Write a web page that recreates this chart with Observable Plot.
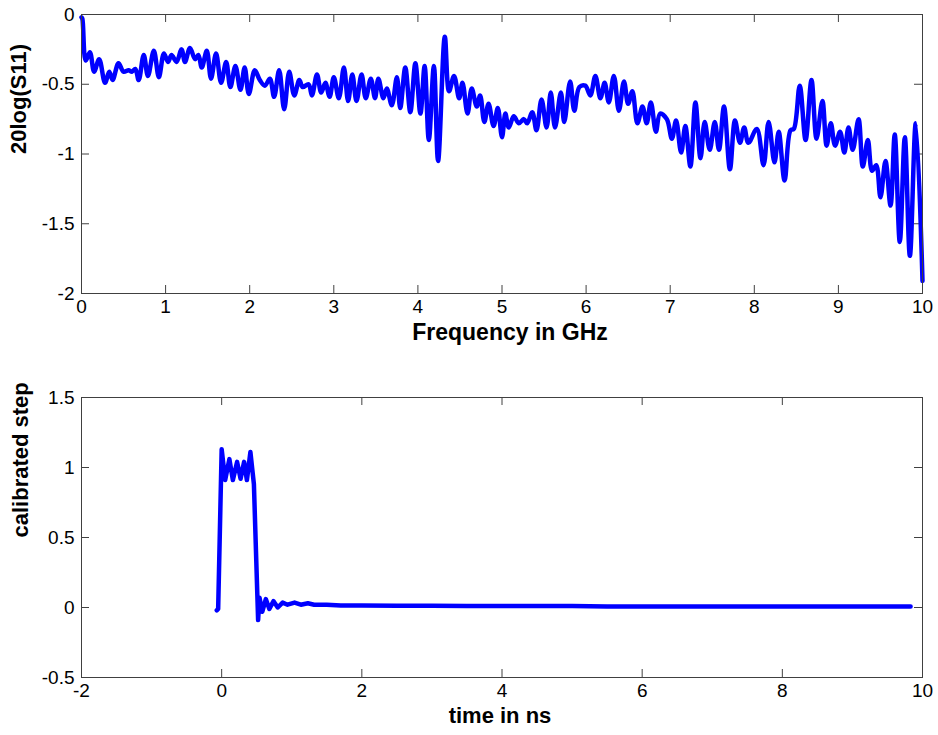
<!DOCTYPE html>
<html><head><meta charset="utf-8">
<script src="https://cdn.jsdelivr.net/npm/d3@7"></script>
<script src="https://cdn.jsdelivr.net/npm/@observablehq/plot@0.6"></script>
<style>
body{margin:0;background:#fff;}
#chart svg{display:block;}
</style></head><body><div id="chart"></div>
<script>
// Top panel: reflection in dB vs frequency
const freqGHz = [0.00,0.01,0.05,0.10,0.15,0.21,0.28,0.33,0.37,0.44,0.50,0.56,0.60,0.64,0.68,0.74,0.79,0.86,0.92,0.98,
  1.03,1.07,1.13,1.19,1.23,1.29,1.35,1.39,1.43,1.49,1.54,1.60,1.66,1.72,1.77,1.83,1.89,1.94,1.99,
  2.06,2.12,2.18,2.24,2.29,2.35,2.41,2.47,2.53,2.59,2.63,2.70,2.74,2.80,2.85,2.90,2.95,
  3.00,3.06,3.12,3.17,3.22,3.27,3.33,3.38,3.44,3.49,3.53,3.59,3.63,3.69,3.75,3.79,3.85,3.91,3.97,
  4.03,4.08,4.13,4.19,4.24,4.32,4.37,4.43,4.49,4.53,4.59,4.64,4.70,4.74,4.79,4.84,4.90,4.95,
  5.00,5.04,5.08,5.14,5.20,5.26,5.30,5.36,5.41,5.47,5.53,5.58,5.63,5.70,5.74,5.81,5.86,5.92,5.99,
  6.05,6.11,6.17,6.22,6.27,6.33,6.39,6.45,6.50,6.55,6.61,6.67,6.72,6.77,6.83,6.88,6.96,
  7.02,7.07,7.13,7.18,7.24,7.30,7.36,7.41,7.47,7.53,7.58,7.64,7.71,7.77,7.83,7.88,7.93,
  8.03,8.11,8.17,8.24,8.29,8.36,8.43,8.47,8.54,8.61,8.68,8.74,8.81,8.86,8.91,8.96,
  9.02,9.07,9.12,9.17,9.24,9.29,9.35,9.40,9.45,9.50,9.56,9.62,9.67,9.73,9.79,9.85,9.92,10.00];
const s11dB = [-0.02,-0.03,-0.33,-0.27,-0.41,-0.32,-0.49,-0.41,-0.47,-0.35,-0.41,-0.40,-0.41,-0.39,-0.47,-0.29,-0.44,-0.26,-0.45,-0.28,
  -0.34,-0.29,-0.34,-0.25,-0.34,-0.24,-0.32,-0.29,-0.38,-0.26,-0.46,-0.28,-0.49,-0.34,-0.52,-0.37,-0.54,-0.38,-0.57,
  -0.40,-0.47,-0.51,-0.46,-0.59,-0.40,-0.68,-0.41,-0.58,-0.47,-0.52,-0.50,-0.58,-0.43,-0.56,-0.49,-0.59,
  -0.45,-0.60,-0.38,-0.62,-0.43,-0.62,-0.43,-0.60,-0.46,-0.60,-0.46,-0.60,-0.53,-0.65,-0.45,-0.67,-0.38,-0.70,-0.35,
  -0.71,-0.37,-0.90,-0.37,-1.05,-0.16,-0.55,-0.44,-0.60,-0.49,-0.71,-0.53,-0.66,-0.58,-0.77,-0.64,-0.80,-0.67,
  -0.88,-0.71,-0.81,-0.73,-0.78,-0.75,-0.78,-0.70,-0.83,-0.61,-0.81,-0.56,-0.81,-0.56,-0.77,-0.48,-0.69,-0.52,-0.51,
  -0.58,-0.44,-0.60,-0.49,-0.63,-0.44,-0.69,-0.48,-0.64,-0.55,-0.78,-0.66,-0.78,-0.63,-0.84,-0.71,-0.75,
  -0.89,-0.76,-0.99,-0.80,-1.09,-0.63,-1.03,-0.77,-0.97,-0.77,-0.97,-0.66,-1.11,-0.76,-0.92,-0.81,-0.92,
  -0.82,-1.08,-0.77,-1.06,-0.84,-1.19,-0.83,-0.82,-0.51,-0.90,-0.47,-0.89,-0.62,-0.94,-0.78,-0.94,
  -0.84,-0.99,-0.81,-0.97,-0.75,-1.09,-0.90,-1.12,-1.08,-1.31,-1.05,-1.37,-0.86,-1.63,-0.88,-1.73,-0.78,-1.91];
const freqTicks = [0,1,2,3,4,5,6,7,8,9,10];
const s11Ticks = [-2,-1.5,-1,-0.5,0];

// Bottom panel: calibrated step vs time
const timeNs = [-0.07,-0.05,0.00,0.05,0.11,0.16,0.22,0.27,0.32,0.36,0.41,0.46,0.52,0.54,0.58,0.63,0.68,0.74,0.80,0.87,0.94,
  1.04,1.13,1.23,1.32,1.50,1.70,2.00,2.50,3.00,3.50,4.00,4.50,5.00,5.50,6.00,6.50,7.00,7.50,8.00,8.50,9.00,9.50,9.83];
const stepVal = [-0.02,-0.01,1.13,0.91,1.06,0.91,1.04,0.92,1.04,0.91,1.11,0.88,-0.09,0.07,-0.03,0.06,-0.01,0.045,0.0,0.035,0.02,
  0.035,0.02,0.03,0.02,0.02,0.015,0.015,0.012,0.012,0.01,0.01,0.01,0.01,0.008,0.008,0.008,0.008,0.008,0.008,0.008,0.008,0.008,0.008];
const timeTicks = [-2,0,2,4,6,8,10];
const stepTicks = [-0.5,0,0.5,1,1.5];

function panel({xs, ys, xDomain, yDomain, xTicks, yTicks, xLabel, yLabel, height, marginTop, marginBottom, yLabelDx, xLabelDx, xLabelDy, xLabelSize, curve}) {
  const W = 938, ML = 81, MR = 16;
  const frameW = W - ML - MR, frameH = height - marginTop - marginBottom;
  const tick = 8, axisColor = "#404040";
  const fmt = d => String(d);
  const data = xs.map((x, i) => ({x, y: ys[i]}));
  return Plot.plot({
    width: W, height, marginLeft: ML, marginRight: MR, marginTop, marginBottom,
    style: {fontFamily: "'Liberation Sans', Arial, sans-serif", fontSize: "19px", color: "#000", background: "#fff"},
    x: {domain: xDomain},
    y: {domain: yDomain},
    marks: [
      Plot.axisX(xTicks, {tickSize: 0, tickPadding: 6, tickFormat: fmt, label: null, fontSize: 19}),
      Plot.axisY(yTicks, {tickSize: 0, tickPadding: 7, tickFormat: fmt, label: null, fontSize: 19}),
      Plot.tickX(xTicks, {x: d => d, insetTop: frameH - tick, stroke: axisColor}),
      Plot.tickX(xTicks, {x: d => d, insetBottom: frameH - tick, stroke: axisColor}),
      Plot.tickY(yTicks, {y: d => d, insetLeft: frameW - tick, stroke: axisColor}),
      Plot.tickY(yTicks, {y: d => d, insetRight: frameW - tick, stroke: axisColor}),
      Plot.line(data, {x: "x", y: "y", stroke: "#0000ff", strokeWidth: 4.5, strokeLinejoin: "round", curve}),
      Plot.frame({stroke: axisColor}),
      Plot.text([xLabel], {frameAnchor: "bottom", dy: xLabelDy, dx: xLabelDx, text: d => d, fontSize: xLabelSize, fontWeight: "bold"}),
      Plot.text([yLabel], {frameAnchor: "left", dx: yLabelDx, rotate: -90, text: d => d, fontSize: 22, fontWeight: "bold"})
    ]
  });
}

const el = document.getElementById("chart");
el.append(panel({xs: freqGHz, ys: s11dB, xDomain: [0, 10], yDomain: [-2, 0], xTicks: freqTicks, yTicks: s11Ticks,
  xLabel: "Frequency in GHz", yLabel: "20log(S11)", height: 370, marginTop: 14, marginBottom: 77, yLabelDx: -63, xLabelDx: 8, xLabelDy: 46, xLabelSize: 23, curve: "catmull-rom"}));
el.append(panel({xs: timeNs, ys: stepVal, xDomain: [-2, 10], yDomain: [-0.5, 1.5], xTicks: timeTicks, yTicks: stepTicks,
  xLabel: "time in ns", yLabel: "calibrated step", height: 365, marginTop: 27, marginBottom: 58, yLabelDx: -61, xLabelDx: -2, xLabelDy: 45, xLabelSize: 22, curve: "linear"}));
</script></body></html>
